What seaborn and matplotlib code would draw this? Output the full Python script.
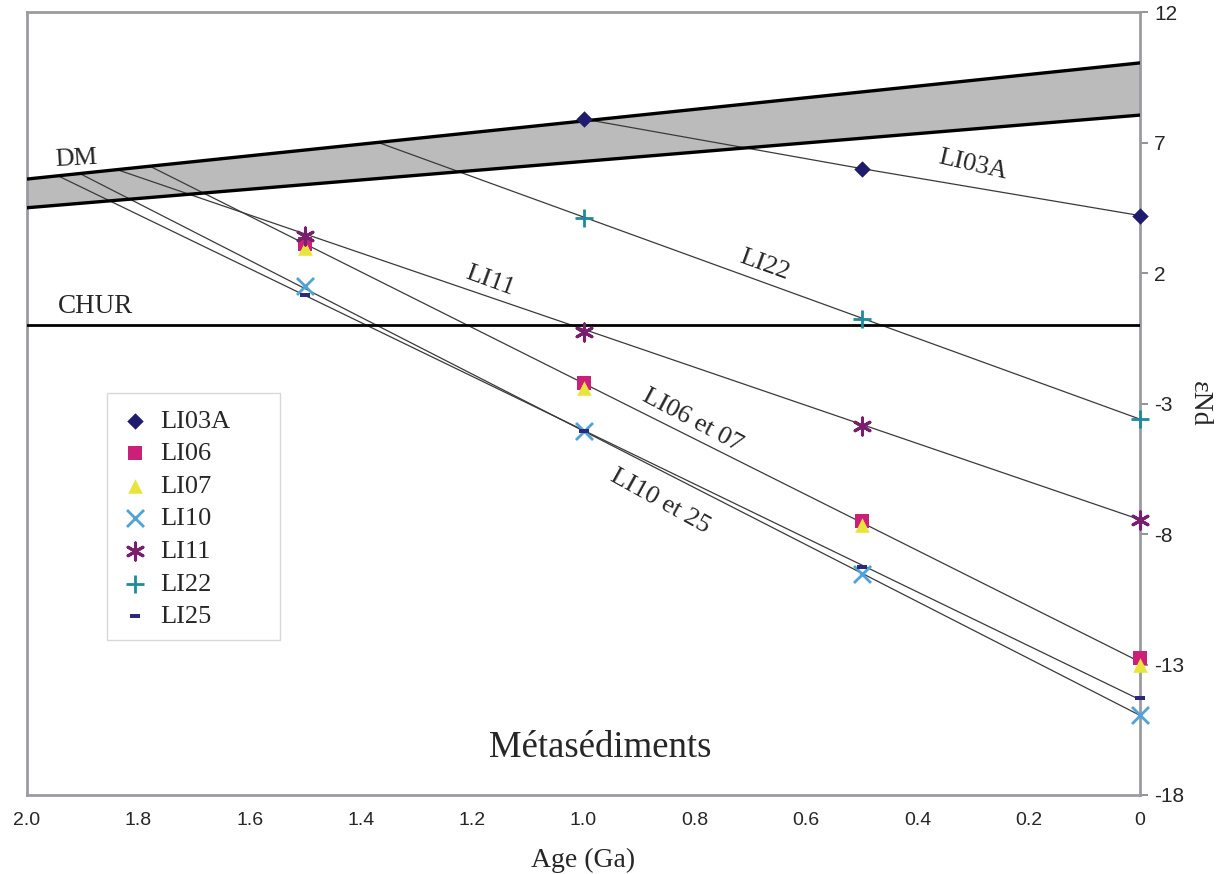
import matplotlib
matplotlib.use("Agg")
import matplotlib.pyplot as plt
from matplotlib.patches import Rectangle
import seaborn as sns
import pandas as pd
import numpy as np

# --- données ---
ages = [1.5, 1.0, 0.5, 0.0]
LI03A = [np.nan, 7.9, 6.0, 4.2]
LI06 = [3.1, -2.2, -7.5, -12.75]
LI07 = [2.95, -2.4, -7.65, -13.0]
LI10 = [1.5, -4.05, -9.55, -14.95]
LI11 = [3.4, -0.25, -3.85, -7.45]
LI22 = [np.nan, 4.1, 0.25, -3.6]
LI25 = [1.15, -4.05, -9.25, -14.3]

# manteau appauvri (bande) : bords haut et bas
dm_age = [2.0, 0.0]
dm_top = [5.6, 10.05]
dm_bot = [4.5, 8.05]
chur = [0.0, 0.0]

# droites d'évolution : départ sur DM -> valeur actuelle
evo_start_age = [1.0, 1.366, 1.838, 1.779, 1.905, 1.944]
evo_start_eps = [7.9, 6.98, 5.96, 6.09, 5.81, 5.72]
evo_end_eps = [4.2, -3.6, -7.45, -12.9, -14.95, -14.35]
# point intermédiaire pour LI03A (ligne brisée)
li03a_mid = (0.5, 6.0)

sns.set_style("white")
plt.rcParams["font.family"] = ["Liberation Serif", "DejaVu Serif"]

fig = plt.figure(figsize=(12.2, 8.74), dpi=100)
ax = fig.add_axes([27 / 1220, 1 - 795 / 874, 1113 / 1220, 783 / 874])

# bande DM
ax.fill_between(dm_age, dm_bot, dm_top, color="#BBBBBB", lw=0, zorder=1)
sns.lineplot(x=dm_age, y=dm_top, ax=ax, color="black", lw=2.4, zorder=3)
sns.lineplot(x=dm_age, y=dm_bot, ax=ax, color="black", lw=2.4, zorder=3)
sns.lineplot(x=dm_age, y=chur, ax=ax, color="black", lw=2.0, zorder=3)

# droites d'évolution
for i, (a0, e0, e1) in enumerate(zip(evo_start_age, evo_start_eps, evo_end_eps)):
    if i == 0:
        xs = [a0, li03a_mid[0], 0.0]
        ys = [e0, li03a_mid[1], e1]
    else:
        xs = [a0, 0.0]
        ys = [e0, e1]
    ax.plot(xs, ys, color="#3a3a3a", lw=0.9, zorder=2)

dash = [(-1, -0.45), (1, -0.45), (1, 0.45), (-1, 0.45), (-1, -0.45)]
series = [
    ("LI03A", LI03A, "D", "#1F1C6E", 70, 0),
    ("LI06", LI06, "s", "#CC1F78", 110, 0),
    ("LI07", LI07, "^", "#E9E43C", 110, 0),
    ("LI10", LI10, "x", "#4EA3DC", 150, 2),
    ("LI11", LI11, (6, 2, 0), "#7A1F6E", 150, 2.2),
    ("LI22", LI22, "+", "#1F8A9C", 150, 2),
    ("LI25", LI25, dash, "#2B2A7A", 45, 0),
]
for name, vals, mk, col, s, lw in series:
    df = pd.DataFrame({"age": ages, "eps": vals}).dropna()
    sns.scatterplot(data=df, x="age", y="eps", ax=ax, marker=mk, color=col,
                    s=s, linewidth=lw, label=name, zorder=5, clip_on=False)

# axes
ax.set_xlim(2.0, 0.0)
ax.set_ylim(-18, 12)
xt = [2.0, 1.8, 1.6, 1.4, 1.2, 1.0, 0.8, 0.6, 0.4, 0.2, 0.0]
ax.set_xticks(xt)
ax.set_xticklabels([f"{v:.1f}" if v > 0 else "0" for v in xt],
                   fontfamily="Liberation Sans", fontsize=14)
yt = [12, 7, 2, -3, -8, -13, -18]
ax.set_yticks(yt)
ax.set_yticklabels([str(v) for v in yt], fontfamily="Liberation Sans", fontsize=15)
ax.yaxis.tick_right()
ax.yaxis.set_label_position("right")
ax.tick_params(axis="x", direction="inout", length=8, width=1.2, color="#808080", pad=8)
ax.tick_params(axis="y", direction="out", length=6, width=1.2, color="#808080", pad=4)
for sp in ax.spines.values():
    sp.set_color("#9a9aa2")
    sp.set_linewidth(2.0)
ax.set_xlabel("Age (Ga)", fontsize=20, labelpad=14)
ax.set_ylabel("εNd", fontsize=20, rotation=270, labelpad=20)
ax.grid(False)

# annotations
ax.text(1.95, 5.9, "DM", fontsize=19, rotation=3, ha="left", va="bottom")
ax.text(1.945, 0.25, "CHUR", fontsize=19.5, ha="left", va="bottom")
ax.text(0.3, 6.15, "LI03A", fontsize=19, rotation=-13, ha="center", va="center")
ax.text(0.675, 2.3, "LI22", fontsize=19, rotation=-20, ha="center", va="center")
ax.text(1.168, 1.7, "LI11", fontsize=19, rotation=-20, ha="center", va="center")
ax.text(0.805, -3.65, "LI06 et 07", fontsize=19, rotation=-28, ha="center", va="center")
ax.text(0.862, -6.75, "LI10 et 25", fontsize=19, rotation=-29, ha="center", va="center")
ax.text(0.97, -16.2, "Métasédiments", fontsize=26.5, ha="center", va="center")

# cadre de la légende (plus large que son contenu, comme dans l'original)
ax.add_patch(Rectangle((0.0719, 0.198), 0.1554, 0.3154, transform=ax.transAxes,
                       facecolor="white", edgecolor="#d8d8d8", lw=1.0, zorder=6))
leg = ax.legend(loc="upper left", bbox_to_anchor=(0.072, 0.513), borderaxespad=0,
                frameon=False, fontsize=19,
                handletextpad=0.5, labelspacing=0.345, borderpad=0.6,
                handlelength=0.9)
leg.set_zorder(7)

fig.savefig("out.png", dpi=100)
